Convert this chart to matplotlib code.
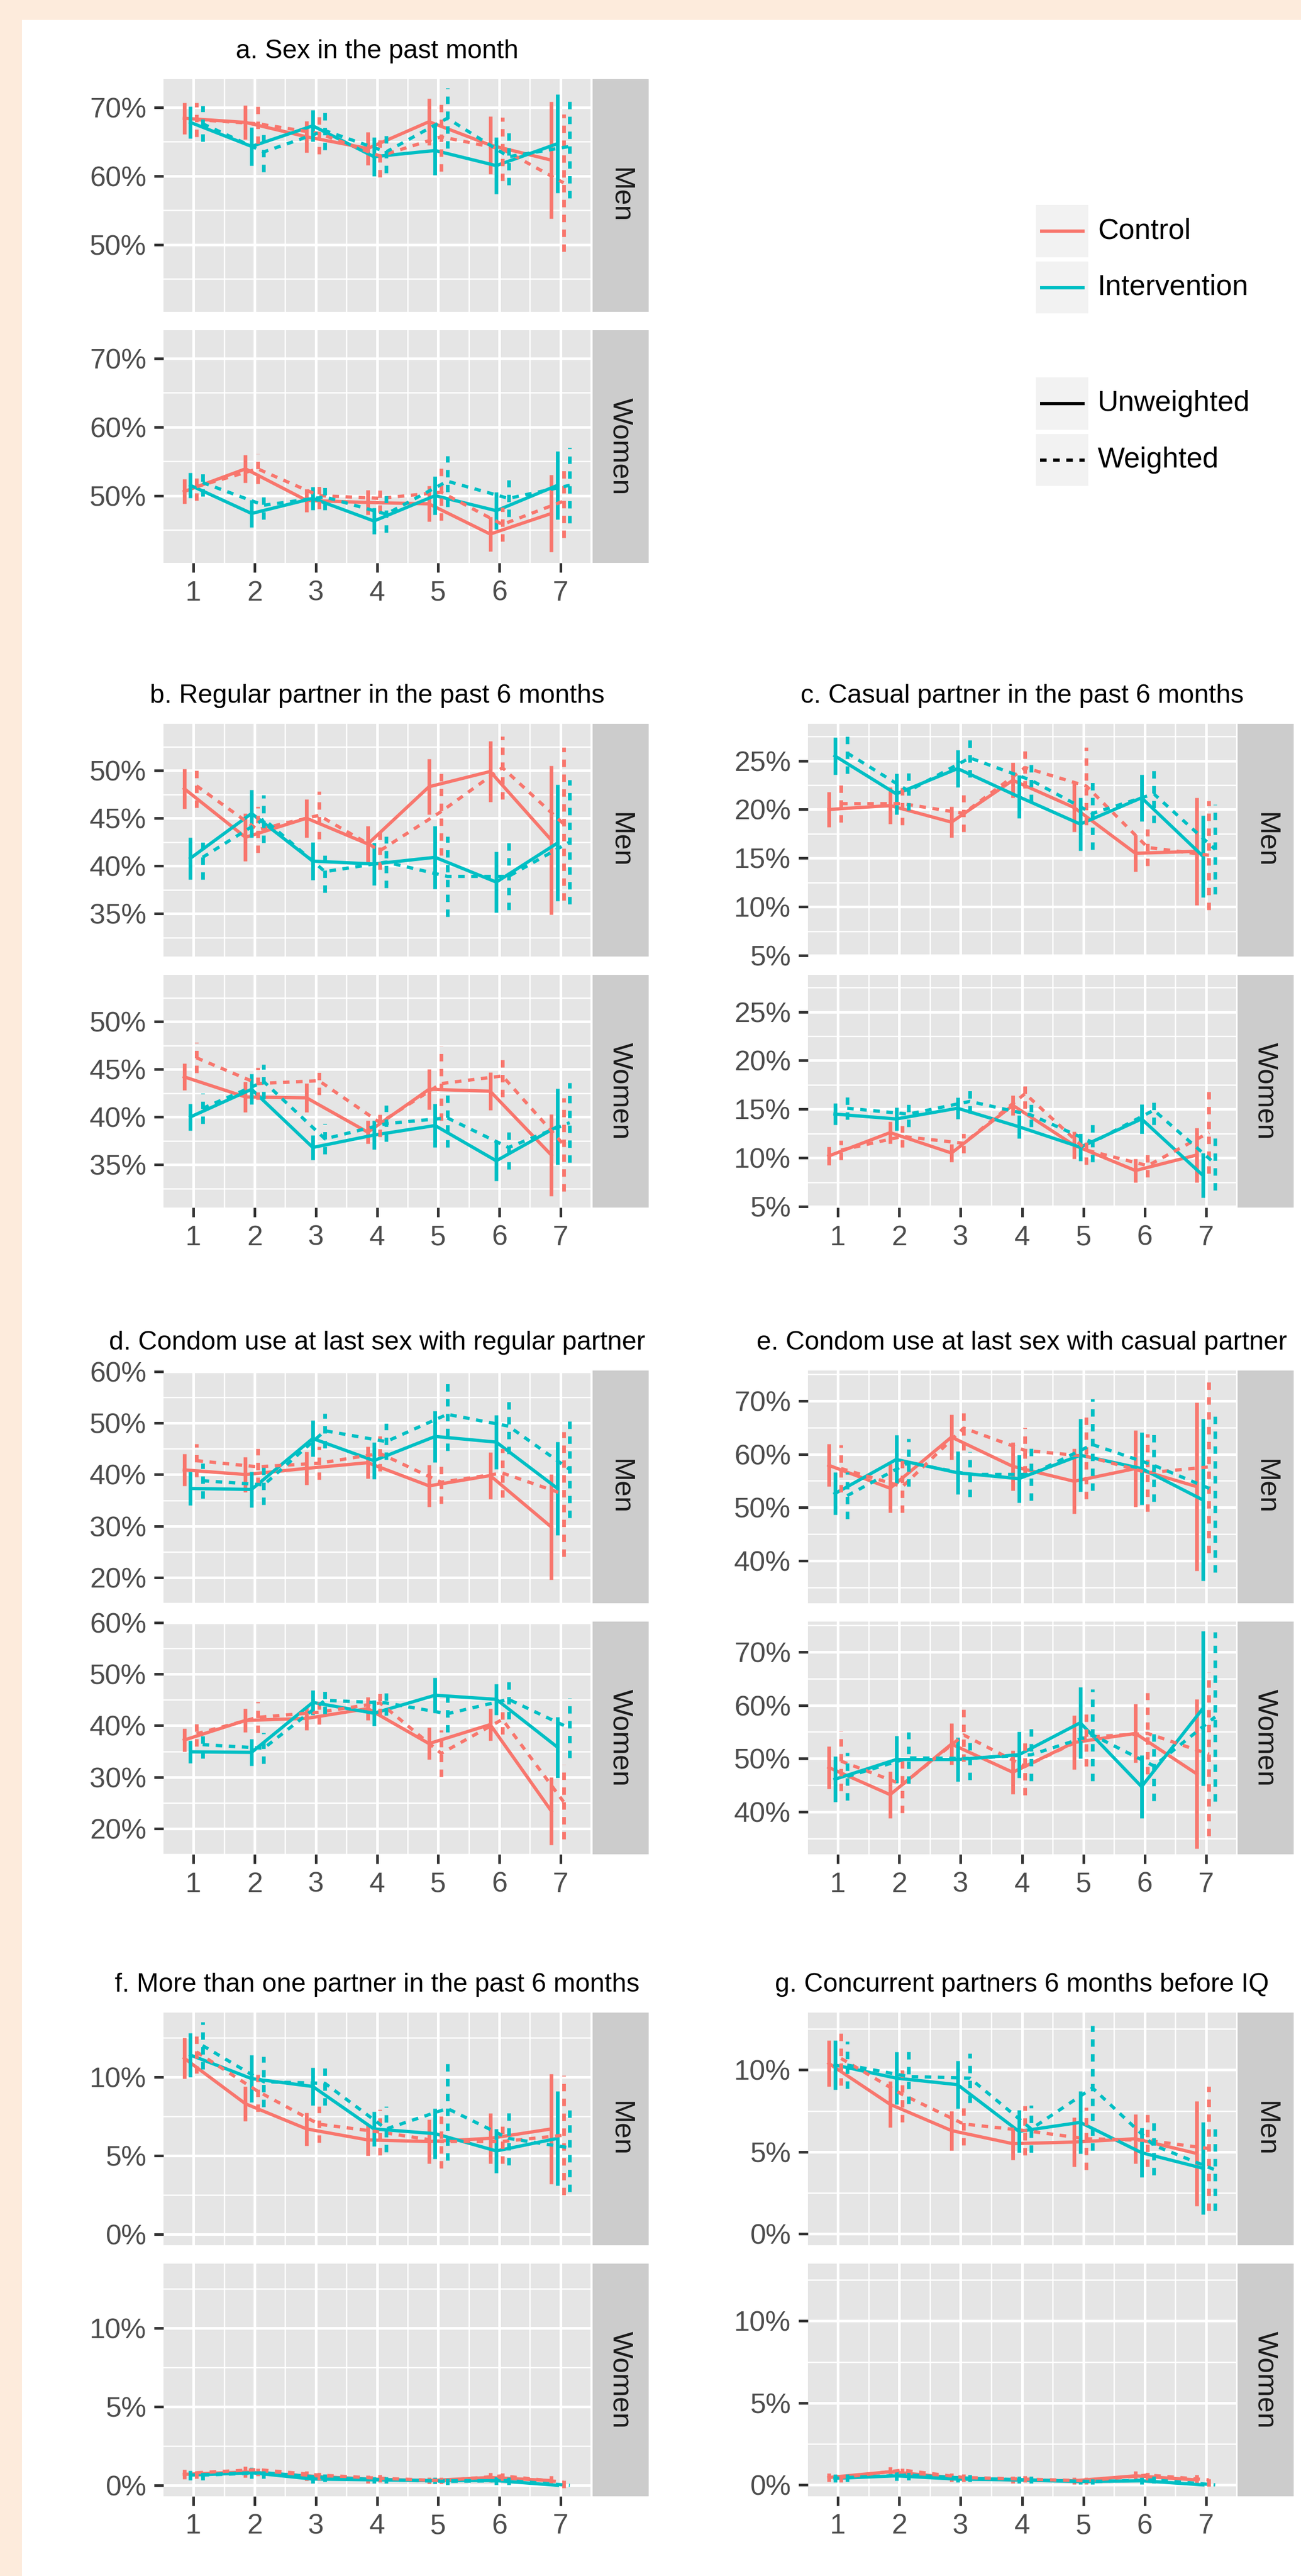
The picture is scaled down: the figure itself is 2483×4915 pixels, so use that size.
import matplotlib
matplotlib.use('Agg')
import matplotlib.pyplot as plt
from matplotlib.patches import Rectangle
import numpy as np

plt.rcParams['font.family'] = ['Liberation Sans', 'DejaVu Sans']

W, H, DPI = 2483, 4915, 300

waves = [1, 2, 3, 4, 5, 6, 7]
arms = ['Control', 'Intervention']
weights = ['Unweighted', 'Weighted']
# series order inside every panel: control/unweighted, intervention/unweighted,
# control/weighted, intervention/weighted
dodge = [-0.15, -0.05, 0.05, 0.15]

# --- values (percent), mean and half-width of CI ---
a_men_mean = [[68.4, 67.8, 65.7, 64.0, 67.9, 64.5, 62.3],
              [67.8, 64.3, 67.3, 62.8, 63.7, 61.5, 64.7],
              [68.2, 67.6, 66.2, 62.9, 65.7, 63.9, 59.0],
              [67.6, 63.5, 66.6, 63.5, 68.4, 62.8, 64.3]]
a_men_err = [[2.3, 2.5, 2.3, 2.4, 3.4, 4.2, 8.5],
             [2.3, 2.8, 2.3, 2.8, 3.6, 4.1, 7.2],
             [2.5, 2.9, 3.0, 3.1, 5.0, 4.6, 10.0],
             [2.6, 2.9, 2.8, 3.1, 4.4, 4.1, 7.5]]
a_women_mean = [[50.6, 53.9, 49.3, 49.0, 48.8, 44.4, 47.4],
                [51.5, 47.4, 49.6, 46.3, 50.0, 47.8, 51.5],
                [51.3, 53.9, 50.0, 49.6, 50.5, 45.8, 49.2],
                [51.9, 48.6, 49.8, 47.3, 52.1, 49.6, 51.5]]
a_women_err = [[1.8, 2.0, 1.7, 1.8, 2.6, 2.5, 5.6],
               [1.8, 2.0, 1.7, 1.9, 2.8, 2.7, 5.0],
               [2.0, 2.2, 1.9, 2.1, 4.1, 2.5, 5.3],
               [2.0, 2.1, 1.9, 2.7, 3.7, 2.7, 5.5]]

b_men_mean = [[48.1, 43.0, 45.0, 42.3, 48.3, 49.9, 42.7],
              [40.8, 45.5, 40.5, 40.2, 40.9, 38.3, 42.4],
              [48.4, 43.8, 45.3, 41.6, 45.7, 50.3, 44.4],
              [40.9, 44.9, 39.4, 40.4, 38.9, 38.9, 42.5]]
b_men_err = [[2.1, 2.5, 2.0, 1.9, 2.9, 3.2, 7.8],
             [2.2, 2.5, 2.0, 2.2, 3.3, 3.2, 6.1],
             [2.3, 2.4, 2.5, 2.0, 4.6, 3.3, 8.0],
             [2.3, 2.5, 2.2, 2.7, 4.2, 3.5, 6.5]]
b_women_mean = [[44.2, 42.1, 42.0, 38.4, 42.9, 42.7, 36.0],
                [40.0, 42.9, 36.8, 38.1, 39.1, 35.4, 39.0],
                [46.2, 43.5, 43.8, 39.4, 43.5, 44.3, 37.1],
                [40.9, 43.7, 37.7, 39.3, 39.9, 36.8, 39.4]]
b_women_err = [[1.4, 1.6, 1.5, 1.2, 2.1, 2.0, 4.3],
               [1.4, 1.6, 1.3, 1.5, 2.3, 2.1, 4.0],
               [1.6, 1.7, 1.5, 1.5, 3.9, 2.2, 4.9],
               [1.6, 1.8, 1.6, 1.9, 3.1, 2.3, 4.2]]

c_men_mean = [[20.0, 20.4, 18.7, 23.0, 20.2, 15.5, 15.7],
              [25.5, 21.6, 24.2, 21.3, 18.5, 21.2, 15.2],
              [20.6, 20.6, 19.6, 24.3, 22.4, 16.1, 15.3],
              [25.8, 21.9, 25.3, 23.0, 19.6, 21.6, 15.9]]
c_men_err = [[1.8, 1.9, 1.6, 1.8, 2.5, 1.9, 5.5],
             [1.9, 2.1, 1.9, 2.2, 2.7, 2.4, 4.2],
             [1.9, 2.2, 1.9, 2.1, 4.0, 1.9, 5.6],
             [2.1, 2.0, 2.0, 2.2, 3.7, 3.0, 4.6]]
c_women_mean = [[10.2, 12.6, 10.5, 15.4, 11.3, 8.7, 10.3],
                [14.5, 14.0, 15.1, 13.2, 11.1, 14.0, 8.2],
                [10.8, 12.2, 11.5, 16.6, 10.8, 9.2, 12.6],
                [15.1, 14.5, 15.8, 14.4, 11.6, 14.9, 9.4]]
c_women_err = [[0.95, 1.15, 0.9, 1.0, 1.4, 1.2, 2.8],
               [1.1, 1.2, 1.1, 1.2, 1.4, 1.5, 2.3],
               [1.0, 1.1, 1.0, 1.5, 1.5, 1.2, 4.2],
               [1.15, 1.3, 1.2, 1.2, 2.0, 1.5, 2.7]]

d_men_mean = [[40.9, 40.0, 41.2, 42.3, 37.8, 39.8, 29.8],
              [37.3, 37.1, 47.0, 42.7, 47.4, 46.3, 37.3],
              [42.7, 41.5, 42.2, 44.1, 38.5, 40.3, 36.2],
              [38.8, 38.0, 48.5, 46.4, 51.7, 49.4, 41.0]]
d_men_err = [[3.1, 3.4, 3.2, 3.1, 4.1, 4.5, 10.2],
             [3.3, 3.5, 3.5, 3.6, 5.0, 5.2, 9.1],
             [3.2, 3.5, 3.2, 3.4, 4.2, 4.7, 12.1],
             [3.4, 3.9, 3.4, 3.5, 7.1, 5.4, 9.4]]
d_women_mean = [[37.2, 41.0, 41.4, 43.3, 36.5, 40.2, 23.4],
                [34.9, 34.8, 44.5, 42.4, 45.9, 45.1, 35.8],
                [38.4, 41.6, 42.6, 44.4, 34.6, 41.2, 25.2],
                [36.3, 35.6, 44.9, 44.4, 42.3, 45.1, 39.5]]
d_women_err = [[2.2, 2.3, 2.3, 2.2, 3.1, 3.1, 6.6],
               [2.2, 2.6, 2.4, 2.5, 3.4, 3.0, 5.9],
               [2.4, 3.0, 2.4, 2.5, 4.5, 2.9, 7.2],
               [2.7, 3.0, 2.6, 2.4, 3.6, 3.8, 5.8]]

e_men_mean = [[57.9, 53.6, 63.2, 57.7, 54.9, 57.3, 53.9],
              [52.6, 59.0, 56.5, 55.4, 59.8, 57.3, 51.4],
              [57.3, 53.9, 64.9, 60.7, 59.6, 56.5, 57.6],
              [52.2, 58.4, 56.2, 56.2, 61.8, 57.9, 53.1]]
e_men_err = [[4.0, 4.6, 4.2, 4.5, 6.1, 7.2, 15.8],
             [4.0, 4.6, 4.0, 4.5, 6.8, 6.8, 15.2],
             [4.4, 4.9, 4.2, 4.3, 8.0, 7.3, 16.2],
             [4.4, 4.5, 4.2, 4.9, 8.6, 6.8, 15.3]]
e_women_mean = [[48.3, 43.2, 52.7, 47.4, 53.0, 54.7, 47.1],
                [46.1, 49.8, 49.8, 50.7, 56.7, 44.7, 59.4],
                [49.5, 45.1, 54.4, 48.5, 54.0, 54.7, 50.8],
                [46.6, 50.1, 50.0, 50.7, 54.4, 48.6, 57.8]]
e_women_err = [[4.0, 4.4, 3.9, 4.1, 5.1, 5.5, 14.0],
               [4.3, 4.4, 4.1, 4.3, 6.7, 5.9, 14.5],
               [5.6, 5.3, 5.0, 5.4, 5.5, 7.6, 15.4],
               [4.5, 4.8, 4.0, 4.9, 8.6, 6.6, 15.9]]

f_men_mean = [[11.2, 8.3, 6.7, 6.0, 5.9, 6.1, 6.7],
              [11.4, 9.9, 9.4, 6.7, 6.4, 5.3, 6.1],
              [11.6, 9.1, 7.0, 6.5, 5.9, 5.9, 6.3],
              [12.0, 9.7, 9.6, 6.7, 8.0, 6.1, 5.5]]
f_men_err = [[1.3, 1.1, 1.05, 1.0, 1.4, 1.6, 3.5],
             [1.4, 1.5, 1.2, 1.1, 1.6, 1.4, 3.0],
             [1.35, 1.3, 1.15, 1.45, 1.7, 1.4, 3.8],
             [1.5, 1.6, 1.4, 1.45, 3.3, 1.7, 2.8]]
f_women_mean = [[0.7, 0.85, 0.6, 0.4, 0.3, 0.5, 0.3],
                [0.65, 0.8, 0.4, 0.35, 0.3, 0.3, 0.0],
                [0.8, 1.0, 0.65, 0.45, 0.3, 0.6, 0.2],
                [0.65, 0.8, 0.5, 0.35, 0.25, 0.3, 0.0]]
f_women_err = [[0.3, 0.35, 0.3, 0.25, 0.2, 0.3, 0.3],
               [0.3, 0.35, 0.25, 0.2, 0.2, 0.25, 0.0],
               [0.35, 0.4, 0.3, 0.25, 0.2, 0.3, 0.35],
               [0.3, 0.35, 0.25, 0.2, 0.2, 0.25, 0.0]]

g_men_mean = [[10.4, 7.9, 6.3, 5.5, 5.6, 5.8, 4.9],
              [10.3, 9.5, 9.1, 6.25, 6.8, 4.95, 4.0],
              [10.7, 8.5, 6.7, 6.3, 5.8, 5.7, 5.2],
              [10.3, 9.6, 9.5, 6.4, 8.9, 5.4, 3.9]]
g_men_err = [[1.4, 1.4, 1.2, 1.0, 1.5, 1.5, 3.2],
             [1.5, 1.6, 1.45, 1.3, 1.9, 1.5, 2.8],
             [1.65, 1.7, 1.3, 1.5, 1.9, 1.6, 3.8],
             [1.45, 1.65, 1.5, 1.45, 3.8, 1.8, 2.5]]
g_women_mean = [[0.45, 0.8, 0.45, 0.3, 0.25, 0.55, 0.3],
                [0.4, 0.55, 0.35, 0.3, 0.2, 0.25, 0.0],
                [0.45, 0.9, 0.45, 0.35, 0.25, 0.6, 0.3],
                [0.45, 0.6, 0.4, 0.3, 0.2, 0.3, 0.0]]
g_women_err = [[0.25, 0.3, 0.25, 0.2, 0.2, 0.3, 0.3],
               [0.25, 0.3, 0.2, 0.2, 0.15, 0.2, 0.0],
               [0.3, 0.35, 0.25, 0.2, 0.2, 0.3, 0.4],
               [0.25, 0.3, 0.2, 0.2, 0.15, 0.2, 0.0]]

titles = {
    'a': 'a. Sex in the past month',
    'b': 'b. Regular partner in the past 6 months',
    'c': 'c. Casual partner in the past 6 months',
    'd': 'd. Condom use at last sex with regular partner',
    'e': 'e. Condom use at last sex with casual partner',
    'f': 'f. More than one partner in the past 6 months',
    'g': 'g. Concurrent partners 6 months before IQ',
}
yticks = {'a': [50, 60, 70], 'b': [35, 40, 45, 50], 'c': [5, 10, 15, 20, 25],
          'd': [20, 30, 40, 50, 60], 'e': [40, 50, 60, 70],
          'f': [0, 5, 10], 'g': [0, 5, 10]}
ylims = {'a': (40.2, 74.1), 'b': (30.5, 54.9), 'c': (4.9, 28.8),
         'd': (15.0, 60.2), 'e': (32.0, 75.7), 'f': (-0.7, 14.1), 'g': (-0.7, 13.5)}
data = {
    'a': ((a_men_mean, a_men_err), (a_women_mean, a_women_err)),
    'b': ((b_men_mean, b_men_err), (b_women_mean, b_women_err)),
    'c': ((c_men_mean, c_men_err), (c_women_mean, c_women_err)),
    'd': ((d_men_mean, d_men_err), (d_women_mean, d_women_err)),
    'e': ((e_men_mean, e_men_err), (e_women_mean, e_women_err)),
    'f': ((f_men_mean, f_men_err), (f_women_mean, f_women_err)),
    'g': ((g_men_mean, g_men_err), (g_women_mean, g_women_err)),
}

# --- style ---
PEACH = '#FDEBDC'
RED, TEAL = '#F8766D', '#00BFC4'
PANEL, STRIP, KEYBG = '#E5E5E5', '#CCCCCC', '#F2F2F2'
DASH = (0, (2.0, 2.0))
FS = 13

# pixel layout
cols = {'L': (312, 1127, 1131, 1238), 'R': (1542, 2359, 2362, 2469)}
row_tops = [151, 1381, 2615, 3840]
PH, GAP = 444, 35
layout = [('a', 0, 'L'), ('b', 1, 'L'), ('c', 1, 'R'), ('d', 2, 'L'),
          ('e', 2, 'R'), ('f', 3, 'L'), ('g', 3, 'R')]


def box(x0, y0, x1, y1):
    return [x0 / W, 1 - y1 / H, (x1 - x0) / W, (y1 - y0) / H]


fig = plt.figure(figsize=(W / DPI, H / DPI), dpi=DPI, facecolor=PEACH)
fig.add_artist(Rectangle((42 / W, 0), 1 - 42 / W, 1 - 38 / H, transform=fig.transFigure,
                         facecolor='white', edgecolor='none', zorder=0))


def draw_panel(ax, means, errs, key, bottom):
    ax.set_facecolor(PANEL)
    for s in ax.spines.values():
        s.set_visible(False)
    yt = yticks[key]
    step = yt[1] - yt[0]
    minor = [v + step / 2 for v in [yt[0] - step] + yt]
    ax.set_yticks(yt)
    ax.set_yticks(minor, minor=True)
    ax.set_yticklabels([f'{v}%' for v in yt])
    ax.set_xticks(waves)
    ax.set_xticks([w + 0.5 for w in waves[:-1]], minor=True)
    ax.set_xlim(0.51, 7.49)
    ax.set_ylim(*ylims[key])
    ax.grid(which='major', color='white', lw=1.2)
    ax.grid(which='minor', color='white', lw=0.6)
    ax.set_axisbelow(True)
    ax.tick_params(which='minor', length=0)
    ax.tick_params(which='major', length=4.3, width=1.2, color='#333333',
                   labelcolor='#4D4D4D', labelsize=FS, pad=3.5)
    if not bottom:
        ax.tick_params(axis='x', which='major', length=0, labelbottom=False)
    for i in range(4):
        xs = np.array(waves) + dodge[i]
        m = np.array(means[i])
        e = np.array(errs[i])
        col = RED if i % 2 == 0 else TEAL
        ls = '-' if i < 2 else DASH
        ax.plot(xs, m, color=col, lw=1.5, linestyle=ls, zorder=3)
        ax.vlines(xs, m - e, m + e, colors=col, lw=1.7, linestyles=ls, zorder=3)


for key, r, c in layout:
    x0, x1, s0, s1 = cols[c]
    top = row_tops[r]
    for j, sex in enumerate(['Men', 'Women']):
        y0 = top + j * (PH + GAP)
        ax = fig.add_axes(box(x0, y0, x1, y0 + PH))
        means, errs = data[key][j]
        draw_panel(ax, means, errs, key, bottom=(j == 1))
        sax = fig.add_axes(box(s0, y0, s1, y0 + PH))
        sax.set_facecolor(STRIP)
        sax.set_xticks([])
        sax.set_yticks([])
        for s in sax.spines.values():
            s.set_visible(False)
        sax.text(0.5, 0.5, sex, rotation=-90, ha='center', va='center',
                 fontsize=FS, color='#1A1A1A', transform=sax.transAxes)
    fig.text((x0 + x1) / 2 / W, 1 - (top - 40) / H, titles[key], ha='center',
             va='baseline', fontsize=12, color='black')

# --- legend (drawn in pixel space) ---
lax = fig.add_axes([0, 0, 1, 1])
lax.set_xlim(0, W)
lax.set_ylim(H, 0)
lax.axis('off')
lax.patch.set_alpha(0)
keys = [(RED, '-', 'Control', 391, 491), (TEAL, '-', 'Intervention', 499, 598),
        ('black', '-', 'Unweighted', 720, 820), ('black', DASH, 'Weighted', 828, 927)]
for col, ls, lab, k0, k1 in keys:
    lax.add_patch(Rectangle((1977, k0), 100, k1 - k0, facecolor=KEYBG, edgecolor='none'))
    yc = (k0 + k1) / 2
    lax.plot([1985, 2070], [yc, yc], color=col, lw=1.5, linestyle=ls,
             solid_capstyle='butt', dash_capstyle='butt')
    lax.text(2095, yc, lab, ha='left', va='center', fontsize=13.2, color='black')

fig.savefig('out.png', dpi=DPI, facecolor=PEACH)
